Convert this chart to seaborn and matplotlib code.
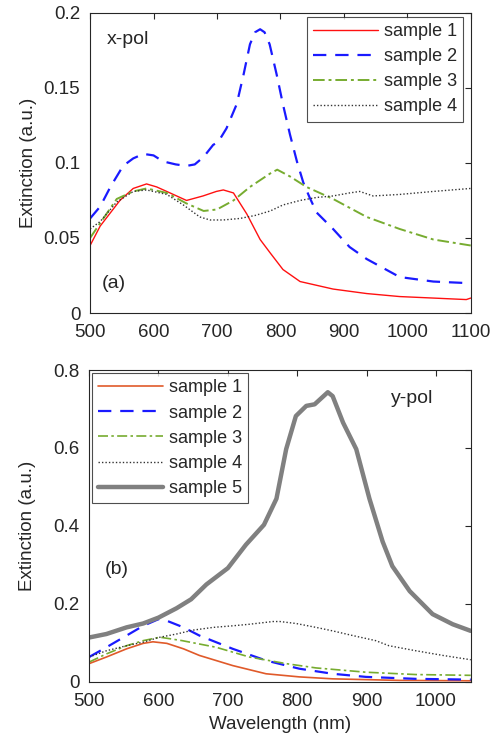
import numpy as np
import pandas as pd
import matplotlib.pyplot as plt
import seaborn as sns

# ---- data (x-pol, panel a) ----
xa_s1 = [500, 516, 547, 568, 589, 605, 626, 652, 678, 699, 710, 726, 747, 768, 784, 804, 831, 883, 936, 988, 1041, 1093, 1100]
ya_s1 = [0.045, 0.058, 0.075, 0.083, 0.086, 0.084, 0.080, 0.075, 0.078, 0.081, 0.082, 0.080, 0.066, 0.049, 0.040, 0.029, 0.021, 0.016, 0.013, 0.011, 0.010, 0.009, 0.010]

xa_s2 = [500, 516, 532, 552, 568, 584, 600, 615, 635, 652, 665, 679, 694, 702, 715, 731, 742, 752, 760, 768, 775, 783, 794, 804, 815, 826, 836, 846, 857, 883, 909, 936, 988, 1041, 1093, 1100]
ya_s2 = [0.063, 0.071, 0.084, 0.098, 0.103, 0.106, 0.105, 0.101, 0.099, 0.098, 0.099, 0.104, 0.112, 0.114, 0.123, 0.139, 0.159, 0.179, 0.187, 0.189, 0.187, 0.179, 0.159, 0.139, 0.119, 0.101, 0.087, 0.077, 0.067, 0.056, 0.044, 0.036, 0.024, 0.021, 0.020, 0.021]

xa_s3 = [500, 516, 542, 568, 589, 621, 652, 679, 700, 726, 752, 784, 795, 815, 841, 883, 936, 988, 1041, 1100]
ya_s3 = [0.050, 0.060, 0.076, 0.081, 0.083, 0.080, 0.073, 0.068, 0.069, 0.075, 0.084, 0.093, 0.0955, 0.091, 0.084, 0.076, 0.064, 0.056, 0.049, 0.045]

xa_s4 = [500, 516, 542, 568, 589, 621, 647, 673, 689, 710, 736, 760, 784, 804, 831, 857, 883, 909, 925, 946, 988, 1041, 1100]
ya_s4 = [0.056, 0.061, 0.074, 0.081, 0.082, 0.079, 0.072, 0.064, 0.062, 0.062, 0.063, 0.065, 0.068, 0.072, 0.075, 0.077, 0.078, 0.080, 0.081, 0.078, 0.079, 0.081, 0.083]

# ---- data (y-pol, panel b) ----
xb_s1 = [500, 525, 554, 578, 592, 612, 636, 659, 683, 707, 755, 803, 851, 947, 1050]
yb_s1 = [0.047, 0.064, 0.085, 0.099, 0.103, 0.099, 0.085, 0.068, 0.055, 0.042, 0.021, 0.013, 0.008, 0.004, 0.003]

xb_s2 = [500, 525, 554, 578, 600, 612, 636, 659, 683, 707, 755, 803, 851, 899, 971, 1050]
yb_s2 = [0.064, 0.089, 0.119, 0.144, 0.161, 0.157, 0.140, 0.119, 0.102, 0.085, 0.055, 0.034, 0.021, 0.013, 0.008, 0.006]

xb_s3 = [500, 525, 554, 578, 600, 605, 634, 683, 731, 784, 827, 899, 971, 1050]
yb_s3 = [0.051, 0.072, 0.093, 0.106, 0.114, 0.114, 0.106, 0.089, 0.064, 0.047, 0.036, 0.025, 0.019, 0.017]

xb_s4 = [500, 525, 554, 578, 600, 626, 650, 679, 707, 731, 765, 775, 798, 827, 851, 880, 913, 932, 971, 1010, 1050]
yb_s4 = [0.064, 0.080, 0.093, 0.102, 0.114, 0.123, 0.133, 0.140, 0.144, 0.148, 0.155, 0.155, 0.150, 0.140, 0.131, 0.119, 0.106, 0.093, 0.080, 0.068, 0.057]

xb_s5 = [500, 525, 554, 578, 600, 626, 647, 669, 700, 726, 752, 770, 784, 798, 813, 825, 844, 851, 866, 885, 904, 923, 937, 962, 995, 1024, 1050]
yb_s5 = [0.114, 0.123, 0.140, 0.150, 0.165, 0.189, 0.212, 0.250, 0.292, 0.352, 0.403, 0.470, 0.597, 0.682, 0.708, 0.712, 0.743, 0.733, 0.665, 0.597, 0.470, 0.360, 0.297, 0.233, 0.174, 0.148, 0.131]

labels_a = ['sample 1', 'sample 2', 'sample 3', 'sample 4']
labels_b = ['sample 1', 'sample 2', 'sample 3', 'sample 4', 'sample 5']

sns.set_style("white")
plt.rcParams['font.family'] = ['Liberation Sans', 'DejaVu Sans']
plt.rcParams['font.size'] = 13

fig = plt.figure(figsize=(4.95, 7.49), dpi=100)
ax1 = fig.add_axes([0.182, 0.582, 0.769, 0.401])
ax2 = fig.add_axes([0.180, 0.0895, 0.771, 0.4165])

leg_kw = dict(fontsize=13, frameon=True, fancybox=False, handlelength=3.6,
              handletextpad=0.3, borderpad=0.35, labelspacing=0.45, borderaxespad=0.0)

# panel (a)
styles_a = [
    (xa_s1, ya_s1, '#ff1010', '-', 1.0),
    (xa_s2, ya_s2, '#1a1aff', (0, (6, 4)), 1.6),
    (xa_s3, ya_s3, '#77ac30', (0, (6, 2, 1.5, 2)), 1.4),
    (xa_s4, ya_s4, '#333333', (0, (1, 1.5)), 1.0),
]
for (x, y, c, ls, lw), lab in zip(styles_a, labels_a):
    df = pd.DataFrame({'wl': x, 'ext': y})
    sns.lineplot(data=df, x='wl', y='ext', ax=ax1, color=c, linestyle=ls, linewidth=lw, label=lab)

ax1.set_xlim(500, 1100)
ax1.set_ylim(0, 0.2)
ax1.set_xticks([500, 600, 700, 800, 900, 1000, 1100])
ax1.set_yticks([0, 0.05, 0.1, 0.15, 0.2])
ax1.set_yticklabels(['0', '0.05', '0.1', '0.15', '0.2'])
ax1.set_xlabel('')
ax1.set_ylabel('Extinction (a.u.)', fontsize=13.5)
ax1.text(0.045, 0.91, 'x-pol', transform=ax1.transAxes, fontsize=14, va='center')
ax1.text(0.03, 0.10, '(a)', transform=ax1.transAxes, fontsize=14, va='center')
leg1 = ax1.legend(loc='upper right', bbox_to_anchor=(0.98, 0.987), **leg_kw)
leg1.get_frame().set_edgecolor('#222222')
leg1.get_frame().set_linewidth(0.8)

# panel (b)
styles_b = [
    (xb_s1, yb_s1, '#e05a2a', '-', 1.2),
    (xb_s2, yb_s2, '#1a1aff', (0, (6, 4)), 1.6),
    (xb_s3, yb_s3, '#77ac30', (0, (6, 2, 1.5, 2)), 1.2),
    (xb_s4, yb_s4, '#333333', (0, (1, 1.5)), 1.0),
    (xb_s5, yb_s5, '#808080', '-', 3.2),
]
for (x, y, c, ls, lw), lab in zip(styles_b, labels_b):
    df = pd.DataFrame({'wl': x, 'ext': y})
    sns.lineplot(data=df, x='wl', y='ext', ax=ax2, color=c, linestyle=ls, linewidth=lw, label=lab)

ax2.set_xlim(500, 1050)
ax2.set_ylim(0, 0.8)
ax2.set_xticks([500, 600, 700, 800, 900, 1000])
ax2.set_yticks([0, 0.2, 0.4, 0.6, 0.8])
ax2.set_yticklabels(['0', '0.2', '0.4', '0.6', '0.8'])
ax2.set_xlabel('Wavelength (nm)', fontsize=13.5)
ax2.set_ylabel('Extinction (a.u.)', fontsize=13.5)
ax2.text(0.79, 0.91, 'y-pol', transform=ax2.transAxes, fontsize=14, va='center')
ax2.text(0.04, 0.36, '(b)', transform=ax2.transAxes, fontsize=14, va='center')
leg2 = ax2.legend(loc='upper left', bbox_to_anchor=(0.008, 0.99), **leg_kw)
leg2.get_frame().set_edgecolor('#222222')
leg2.get_frame().set_linewidth(0.8)

for ax in (ax1, ax2):
    for sp in ax.spines.values():
        sp.set_visible(True)
        sp.set_color('#262626')
        sp.set_linewidth(0.8)
    ax.tick_params(direction='in', top=True, right=True, length=4, width=0.8,
                   colors='#262626', labelsize=13.5, labelcolor='#262626')
    ax.tick_params(axis='x', pad=8)
    ax.tick_params(axis='y', pad=7)
    ax.yaxis.set_label_coords(-0.14, 0.5)

fig.savefig('out.png', dpi=100)
plt.close(fig)
